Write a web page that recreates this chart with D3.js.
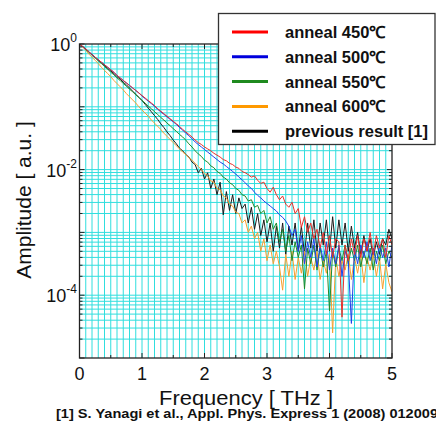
<!DOCTYPE html>
<html>
<head>
<meta charset="utf-8">
<script src="https://cdn.jsdelivr.net/npm/d3@7"></script>
<style>
  body { margin: 0; background: #fff; }
  text { font-family: Arial, "Liberation Sans", sans-serif; }
</style>
</head>
<body>
<svg id="chart"></svg>
<script>
// frequency samples (THz)
const freqTHz = [0,0.05,0.1,0.15,0.2,0.25,0.3,0.35,0.4,0.45,0.5,0.55,0.6,0.65,0.7,0.75,0.8,0.85,0.9,0.95,
  1,1.05,1.1,1.15,1.2,1.25,1.3,1.35,1.4,1.45,1.5,1.55,1.6,1.65,1.7,1.75,1.8,1.85,1.9,1.95,
  2,2.05,2.1,2.15,2.2,2.25,2.3,2.35,2.4,2.45,2.5,2.55,2.6,2.65,2.7,2.75,2.8,2.85,2.9,2.95,
  3,3.05,3.1,3.15,3.2,3.25,3.3,3.35,3.4,3.45,3.5,3.55,3.6,3.65,3.7,3.75,3.8,3.85,3.9,3.95,
  4,4.05,4.1,4.15,4.2,4.25,4.3,4.35,4.4,4.45,4.5,4.55,4.6,4.65,4.7,4.75,4.8,4.85,4.9,4.95,5];

// amplitudes, as log10 (decades)
const anneal450 = [0,-0.04,-0.08,-0.12,-0.17,-0.21,-0.25,-0.29,-0.33,-0.37,
  -0.41,-0.45,-0.50,-0.54,-0.58,-0.62,-0.66,-0.70,-0.74,-0.78,
  -0.82,-0.86,-0.90,-0.94,-0.98,-1.03,-1.07,-1.11,-1.15,-1.19,
  -1.23,-1.27,-1.31,-1.36,-1.40,-1.44,-1.48,-1.53,-1.57,-1.60,
  -1.64,-1.67,-1.70,-1.74,-1.77,-1.80,-1.84,-1.86,-1.90,-1.92,
  -1.96,-1.98,-2.03,-2.05,-2.08,-2.12,-2.10,-2.17,-2.22,-2.20,
  -2.30,-2.36,-2.28,-2.40,-2.48,-2.42,-2.55,-2.60,-2.52,-2.70,
  -2.62,-2.92,-2.75,-3.00,-2.85,-3.10,-2.95,-3.25,-3.00,-3.35,
  -3.05,-3.40,-3.10,-3.15,-4.35,-3.20,-3.45,-3.10,-3.35,-3.05,
  -3.40,-3.10,-3.30,-3.00,-3.35,-3.05,-3.25,-3.10,-3.40,-3.05,
  -3.20];
const anneal500 = [0,-0.04,-0.08,-0.12,-0.17,-0.21,-0.25,-0.29,-0.33,-0.37,
  -0.41,-0.45,-0.50,-0.54,-0.58,-0.62,-0.66,-0.70,-0.74,-0.78,
  -0.83,-0.87,-0.91,-0.95,-0.99,-1.04,-1.08,-1.12,-1.16,-1.20,
  -1.24,-1.28,-1.33,-1.37,-1.42,-1.46,-1.51,-1.56,-1.60,-1.64,
  -1.68,-1.72,-1.76,-1.80,-1.84,-1.88,-1.91,-1.95,-1.99,-2.03,
  -2.07,-2.12,-2.16,-2.21,-2.26,-2.30,-2.36,-2.41,-2.45,-2.50,
  -2.54,-2.58,-2.62,-2.66,-2.72,-2.76,-2.82,-2.90,-3.05,-2.95,
  -3.30,-3.05,-3.50,-3.15,-3.40,-3.10,-3.55,-3.20,-3.45,-3.15,
  -3.60,-3.25,-3.50,-3.20,-3.70,-3.30,-3.45,-4.45,-3.25,-3.50,
  -3.20,-3.40,-3.15,-3.45,-3.25,-3.50,-3.20,-3.40,-3.25,-3.55,
  -3.20];
const anneal550 = [0,-0.04,-0.09,-0.13,-0.18,-0.22,-0.27,-0.31,-0.36,-0.40,
  -0.45,-0.49,-0.54,-0.58,-0.63,-0.67,-0.72,-0.76,-0.81,-0.85,
  -0.90,-0.94,-0.99,-1.03,-1.08,-1.12,-1.17,-1.21,-1.26,-1.30,
  -1.35,-1.39,-1.44,-1.48,-1.53,-1.59,-1.64,-1.70,-1.75,-1.79,
  -1.85,-1.88,-1.94,-1.97,-2.03,-2.06,-2.12,-2.15,-2.21,-2.24,
  -2.30,-2.33,-2.40,-2.42,-2.50,-2.48,-2.60,-2.57,-2.70,-2.65,
  -2.85,-2.75,-2.95,-2.85,-3.15,-2.95,-3.30,-3.05,-3.45,-3.15,
  -3.40,-3.20,-3.90,-3.25,-3.50,-3.20,-3.60,-3.25,-3.55,-3.30,
  -4.25,-3.30,-3.55,-3.25,-3.45,-3.20,-3.50,-3.25,-3.45,-3.20,
  -3.55,-3.30,-3.50,-3.25,-3.60,-3.30,-3.45,-3.20,-3.50,-3.30,
  -3.40];
const anneal600 = [0,-0.05,-0.10,-0.16,-0.21,-0.26,-0.31,-0.37,-0.42,-0.47,
  -0.52,-0.58,-0.63,-0.68,-0.73,-0.79,-0.84,-0.89,-0.94,-1.00,
  -1.05,-1.10,-1.15,-1.21,-1.26,-1.31,-1.36,-1.42,-1.47,-1.52,
  -1.57,-1.62,-1.67,-1.72,-1.76,-1.81,-1.85,-1.90,-1.95,-2.00,
  -2.06,-2.10,-2.18,-2.20,-2.30,-2.32,-2.42,-2.45,-2.55,-2.58,
  -2.68,-2.70,-2.85,-2.80,-3.00,-2.90,-3.10,-3.00,-3.30,-3.10,
  -3.45,-3.20,-3.50,-3.30,-3.55,-3.92,-3.35,-3.70,-3.30,-3.75,
  -3.40,-3.65,-3.30,-3.70,-3.40,-3.60,-3.30,-3.75,-3.45,-3.65,
  -3.35,-4.60,-3.40,-3.70,-3.45,-3.60,-3.35,-3.75,-3.40,-3.65,
  -3.35,-3.80,-3.40,-3.60,-3.35,-3.70,-3.40,-3.90,-3.50,-3.80,
  -3.95];
const previous = [0,-0.04,-0.08,-0.13,-0.17,-0.21,-0.26,-0.30,-0.34,-0.39,
  -0.43,-0.47,-0.52,-0.56,-0.61,-0.65,-0.70,-0.75,-0.80,-0.85,
  -0.90,-0.96,-1.02,-1.08,-1.14,-1.20,-1.27,-1.33,-1.40,-1.46,
  -1.53,-1.59,-1.66,-1.70,-1.76,-1.80,-1.88,-1.92,-2.05,-1.98,
  -2.15,-2.05,-2.30,-2.15,-2.40,-2.20,-2.72,-2.35,-2.65,-2.40,
  -2.70,-2.45,-2.62,-2.55,-2.85,-2.60,-2.95,-2.70,-3.05,-2.80,
  -3.15,-2.85,-3.30,-2.90,-3.25,-2.85,-3.35,-2.90,-3.20,-2.85,
  -3.30,-2.90,-3.35,-2.85,-3.25,-2.80,-3.30,-2.85,-3.20,-2.80,
  -3.30,-2.75,-3.25,-2.80,-3.20,-2.85,-3.30,-2.90,-3.25,-3.00,
  -3.35,-3.05,-3.30,-3.10,-3.40,-3.15,-3.35,-3.10,-3.20,-2.95,
  -3.10];

const seriesNames = ['anneal 450℃', 'anneal 500℃', 'anneal 550℃', 'anneal 600℃', 'previous result [1]'];
const seriesValues = [anneal450, anneal500, anneal550, anneal600, previous];
const lineColors = ['#e8302a', '#2040e8', '#1f8a2a', '#f5a030', '#1a1a1a'];
const legendColors = ['#ff0000', '#0000dd', '#1f8a1f', '#ff9900', '#000000'];

const xTicks = [0, 1, 2, 3, 4, 5];
const yLabelExps = [0, -2, -4];
const caption = '[1] S. Yanagi et al., Appl. Phys. Express 1 (2008) 012009';

const width = 436, height = 424;
const plotL = 79.5, plotR = 392, plotT = 44, plotB = 358;

const svg = d3.select('#chart').attr('width', width).attr('height', height);

const x = d3.scaleLinear().domain([0, 5]).range([plotL, plotR]);
const y = d3.scaleLog().domain([1e-5, 1]).range([plotB, plotT]);

// grid
const grid = svg.append('g').attr('stroke', '#30dede').attr('stroke-width', 1);
d3.range(1, 50).forEach(i => {
  const gx = x(i / 10);
  grid.append('line').attr('x1', gx).attr('x2', gx).attr('y1', plotT).attr('y2', plotB);
});
const logTicks = y.ticks(); // 1..9 per decade
logTicks.forEach(v => {
  const gy = y(v);
  if (gy <= plotT + 0.5 || gy >= plotB - 0.5) return;
  grid.append('line').attr('x1', plotL).attr('x2', plotR).attr('y1', gy).attr('y2', gy);
});

// data lines
svg.append('clipPath').attr('id', 'clip')
  .append('rect').attr('x', plotL).attr('y', plotT).attr('width', plotR - plotL).attr('height', plotB - plotT);

const line = d3.line()
  .x((d, i) => x(freqTHz[i]))
  .y(d => y(Math.pow(10, d)));

const drawOrder = [4, 3, 2, 1, 0];
svg.append('g').attr('clip-path', 'url(#clip)')
  .selectAll('path')
  .data(drawOrder)
  .enter().append('path')
    .attr('d', k => line(seriesValues[k]))
    .attr('fill', 'none')
    .attr('stroke', k => lineColors[k])
    .attr('stroke-width', 1);

// frame
svg.append('rect')
  .attr('x', plotL).attr('y', plotT)
  .attr('width', plotR - plotL).attr('height', plotB - plotT)
  .attr('fill', 'none').attr('stroke', '#222').attr('stroke-width', 1.3);

// ticks
const ticks = svg.append('g').attr('stroke', '#222').attr('stroke-width', 1);
d3.range(0, 11).forEach(i => {
  const tx = x(i / 2);
  const len = i % 2 === 0 ? 5 : 3;
  ticks.append('line').attr('x1', tx).attr('x2', tx).attr('y1', plotB).attr('y2', plotB - len);
  ticks.append('line').attr('x1', tx).attr('x2', tx).attr('y1', plotT).attr('y2', plotT + len);
});
logTicks.forEach(v => {
  const gy = y(v);
  const major = Math.abs(Math.log10(v) - Math.round(Math.log10(v))) < 1e-6;
  const len = major ? 5 : 3;
  ticks.append('line').attr('x1', plotL).attr('x2', plotL + len).attr('y1', gy).attr('y2', gy);
  ticks.append('line').attr('x1', plotR).attr('x2', plotR - len).attr('y1', gy).attr('y2', gy);
});

// x tick labels
svg.append('g').selectAll('text')
  .data(xTicks)
  .enter().append('text')
    .attr('x', d => x(d))
    .attr('y', plotB + 22)
    .attr('text-anchor', 'middle')
    .attr('font-size', 18)
    .attr('fill', '#111')
    .text(d => d);

// y tick labels
const yl = svg.append('g').selectAll('text')
  .data(yLabelExps)
  .enter().append('text')
    .attr('x', 77)
    .attr('y', d => y(Math.pow(10, d)) + 7)
    .attr('text-anchor', 'end')
    .attr('font-size', 18)
    .attr('fill', '#111');
yl.append('tspan').text('10');
yl.append('tspan').attr('dy', -9).attr('font-size', 12).text(d => (d === 0 ? '0' : d));

// axis titles
svg.append('text')
  .attr('x', 246).attr('y', 405)
  .attr('text-anchor', 'middle')
  .attr('font-size', 21)
  .attr('textLength', 174)
  .attr('lengthAdjust', 'spacingAndGlyphs')
  .attr('fill', '#111')
  .text('Frequency [ THz ]');

svg.append('text')
  .attr('transform', 'translate(31, 200) rotate(-90)')
  .attr('text-anchor', 'middle')
  .attr('font-size', 21)
  .attr('fill', '#111')
  .text('Amplitude [ a.u. ]');

svg.append('text')
  .attr('x', 56).attr('y', 418)
  .attr('font-size', 12.5)
  .attr('font-weight', 'bold')
  .attr('textLength', 382)
  .attr('lengthAdjust', 'spacingAndGlyphs')
  .attr('fill', '#111')
  .text(caption);

// legend
const legend = svg.append('g');
legend.append('rect')
  .attr('x', 218.5).attr('y', 13.5)
  .attr('width', 216.5).attr('height', 131)
  .attr('fill', '#fff').attr('stroke', '#333').attr('stroke-width', 1.3);

const item = legend.selectAll('g.item')
  .data(seriesNames)
  .enter().append('g')
    .attr('class', 'item')
    .attr('transform', (d, i) => `translate(0, ${32 + i * 24.8})`);

item.append('line')
  .attr('x1', 232).attr('x2', 268)
  .attr('stroke', (d, i) => legendColors[i])
  .attr('stroke-width', 3);

item.append('text')
  .attr('x', 285).attr('y', 6)
  .attr('font-size', 16.5)
  .attr('font-weight', 'bold')
  .attr('fill', '#111')
  .text(d => d);
</script>
</body>
</html>
